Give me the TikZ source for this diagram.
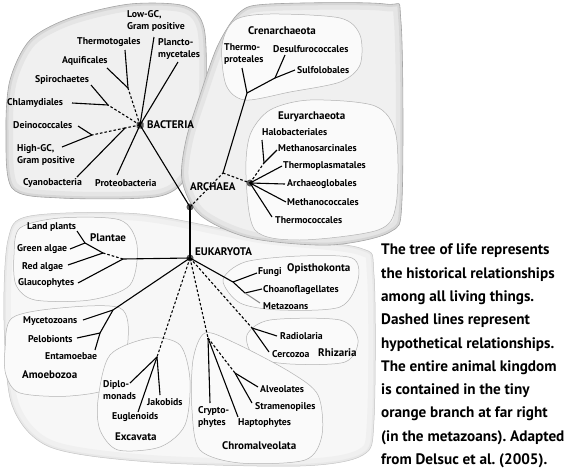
\documentclass[tikz,border=0pt]{standalone}
\usepackage{fontspec}
\setmainfont{PT Sans}
\frenchspacing
\begin{document}
\begin{tikzpicture}[x=1pt,y=-1pt,
 lab/.style={font=\bfseries\fontsize{9.8}{12}\selectfont, inner sep=0pt, anchor=west, align=left},
 grp/.style={font=\bfseries\fontsize{11}{13}\selectfont, inner sep=0pt, anchor=west},
 br/.style={line width=1.1pt, black},
 hyp/.style={br, dash pattern=on 2.6pt off 2pt},
 meta/.style={line width=1.1pt, black!45},
 dot/.style={circle, fill=black!65, inner sep=0pt, minimum size=7pt},
 sqdot/.style={rectangle, rounded corners=1.5pt, fill=black!65, inner sep=0pt, minimum size=7pt},
 outerblob/.style={fill=black!6},
 rim/.style={draw=black!35, line width=0.6pt},
 innerblob/.style={fill=black!2, draw=black!30, line width=0.5pt},
]
\useasboundingbox (0,0) rectangle (574,474);
\fill[white] (0,0) rectangle (574,474);

% ---- region outlines
\def\bacpath{plot[smooth cycle] coordinates{(6,130) (10,80) (30,40) (70,18) (130,4) (185,6) (204,28) (206,90) (200,145) (185,180) (155,197) (60,198) (12,188)}}
\def\arcpath{plot[smooth cycle] coordinates{(182,180) (186,140) (200,95) (218,45) (240,12) (270,4) (385,4) (401,22) (402,200) (390,232) (330,245) (250,238) (200,215)}}
\def\eukpath{plot[smooth cycle] coordinates{(4,320) (8,240) (30,216) (140,214) (260,236) (360,248) (374,275) (374,420) (363,455) (300,466) (150,462) (50,447) (12,405)}}

\fill[black!3] \eukpath;
\begin{scope}\clip \eukpath; \draw[black!6, line width=14pt] \eukpath; \draw[black!9, line width=4pt] \eukpath; \end{scope}
\draw[black!22, line width=0.5pt] \eukpath;

\fill[outerblob] \bacpath;
\begin{scope}\clip \bacpath; \draw[black!10, line width=14pt] \bacpath; \draw[black!16, line width=5pt] \bacpath; \end{scope}
\draw[rim] \bacpath;

\fill[outerblob] \arcpath;
\begin{scope}\clip \arcpath; \draw[black!10, line width=14pt] \arcpath; \draw[black!16, line width=5pt] \arcpath; \end{scope}
\draw[rim] \arcpath;

% sub-groups
\draw[innerblob] plot[smooth cycle] coordinates{(222,45) (235,20) (270,14) (340,18) (360,35) (360,65) (340,82) (290,92) (245,100) (226,85)};
\draw[innerblob] plot[smooth cycle] coordinates{(246,175) (250,135) (270,110) (310,100) (375,106) (396,135) (396,205) (378,230) (300,240) (255,230)};
\draw[innerblob] plot[smooth cycle] coordinates{(14,255) (20,228) (60,218) (120,220) (137,245) (130,285) (90,300) (35,300) (16,285)};
\draw[innerblob] plot[smooth cycle] coordinates{(5,350) (12,318) (60,308) (120,308) (128,340) (115,385) (70,396) (20,393) (6,375)};
\draw[innerblob] plot[smooth cycle] coordinates{(98,400) (110,355) (150,338) (180,345) (190,380) (185,425) (160,447) (118,450) (100,430)};
\draw[innerblob] plot[smooth cycle] coordinates{(223,280) (245,262) (300,256) (352,258) (358,280) (340,307) (280,310) (240,303)};
\draw[innerblob] plot[smooth cycle] coordinates{(247,335) (270,320) (340,320) (358,340) (345,362) (290,364) (255,357)};
\draw[innerblob] plot[smooth cycle] coordinates{(193,360) (205,333) (235,343) (290,372) (318,395) (322,435) (305,460) (240,463) (200,450) (192,410)};

% ---- junctions and branch ends
\coordinate (eLowGC) at (154,37);
\coordinate (ePlancto) at (178,62);
\coordinate (jThermo) at (128,88);
\coordinate (eThermo) at (125,50);
\coordinate (eAquif) at (107,68);
\coordinate (jChla) at (108,105);
\coordinate (eChla) at (72,103);
\coordinate (eSpiro) at (91,85);
\coordinate (jCyano) at (125,128);
\coordinate (jDein) at (92,135);
\coordinate (eDein) at (78,126);
\coordinate (eHigh) at (62,147);
\coordinate (eCyano) at (77,177);
\coordinate (eProteo) at (117,175);

\coordinate (jArch) at (223,173);
\coordinate (jCren) at (247,93);
\coordinate (jSD) at (275,78);
\coordinate (eThermoprot) at (242,68);
\coordinate (eDesulf) at (285,55);
\coordinate (eSulfo) at (295,70);
\coordinate (jHalo) at (264,163);
\coordinate (eHalo) at (262,140);
\coordinate (eMethsar) at (277,150);
\coordinate (eThermopl) at (282,166);
\coordinate (eArchaeo) at (285,184);
\coordinate (eMethcoc) at (286,202);
\coordinate (eThermoc) at (272,217);

\coordinate (jGlau) at (123,259);
\coordinate (jRed) at (103,253);
\coordinate (jLand) at (85,243);
\coordinate (eLand) at (77,231);
\coordinate (eGreen) at (70,249);
\coordinate (eRed) at (68,265);
\coordinate (eGlauc) at (78,283);
\coordinate (jAmoe) at (113,310);
\coordinate (eMyce) at (83,320);
\coordinate (jPelo) at (100,333);
\coordinate (ePelo) at (77,338);
\coordinate (eEntam) at (95,350);
\coordinate (jExc) at (157,357);
\coordinate (eDiplo) at (130,383);
\coordinate (eJako) at (160,395);
\coordinate (eEugl) at (138,412);
\coordinate (jChrom) at (208,338);
\coordinate (eCrypt) at (210,403);
\coordinate (eHapto) at (238,417);
\coordinate (jAlv) at (235,373);
\coordinate (eAlv) at (258,387);
\coordinate (eStram) at (252,403);
\coordinate (jRhiz) at (252,328);
\coordinate (eRadio) at (277,336);
\coordinate (eCerco) at (269,352);
\coordinate (jOpis) at (233,282);
\coordinate (eFungi) at (257,273);
\coordinate (jChoa) at (245,293);
\coordinate (eChoa) at (262,289);
\coordinate (eMeta) at (260,303);

% ---- main nodes
\node[sqdot] (bac) at (140,125) {};
\node[dot] (root) at (190,207) {};
\node[dot] (euk) at (190,258) {};
\node[dot] (eury) at (250,183) {};

% ---- bacteria branches
\draw[br] (bac.center) -- (eLowGC);
\draw[br] (bac.center) -- (ePlancto);
\draw[hyp] (bac.center) -- (jThermo);
\draw[br] (jThermo) -- (eThermo);
\draw[br] (jThermo) -- (eAquif);
\draw[hyp] (bac.center) -- (jChla);
\draw[br] (jChla) -- (eChla);
\draw[br] (jChla) -- (eSpiro);
\draw[hyp] (bac.center) -- (jCyano);
\draw[hyp] (jCyano) -- (jDein);
\draw[br] (jDein) -- (eDein);
\draw[br] (jDein) -- (eHigh);
\draw[br] (jCyano) -- (eCyano);
\draw[br] (bac.center) -- (eProteo);
\draw[br] (bac.center) -- (root.center);

% ---- archaea branches
\draw[hyp] (root.center) -- (jArch);
\draw[br] (jArch) -- (jCren);
\draw[br] (jCren) -- (eThermoprot);
\draw[br] (jCren) -- (jSD);
\draw[br] (jSD) -- (eDesulf);
\draw[br] (jSD) -- (eSulfo);
\draw[hyp] (jArch) -- (eury.center);
\draw[hyp] (eury.center) -- (jHalo);
\draw[br] (jHalo) -- (eHalo);
\draw[br] (jHalo) -- (eMethsar);
\draw[br] (eury.center) -- (eThermopl);
\draw[br] (eury.center) -- (eArchaeo);
\draw[br] (eury.center) -- (eMethcoc);
\draw[br] (eury.center) -- (eThermoc);

% ---- eukaryota branches
\draw[br] (root.center) -- (euk.center);
\draw[br] (euk.center) -- (jGlau);
\draw[br] (jGlau) -- (eGlauc);
\draw[hyp] (jGlau) -- (jRed);
\draw[br] (jRed) -- (eRed);
\draw[br] (jRed) -- (jLand);
\draw[br] (jLand) -- (eLand);
\draw[br] (jLand) -- (eGreen);
\draw[br] (euk.center) -- (jAmoe);
\draw[br] (jAmoe) -- (eMyce);
\draw[br] (jAmoe) -- (jPelo);
\draw[br] (jPelo) -- (ePelo);
\draw[br] (jPelo) -- (eEntam);
\draw[hyp] (euk.center) -- (jExc);
\draw[br] (jExc) -- (eDiplo);
\draw[br] (jExc) -- (eJako);
\draw[br] (jExc) -- (eEugl);
\draw[hyp] (euk.center) -- (jChrom);
\draw[br] (jChrom) -- (eCrypt);
\draw[br] (jChrom) -- (eHapto);
\draw[hyp] (jChrom) -- (jAlv);
\draw[br] (jAlv) -- (eAlv);
\draw[br] (jAlv) -- (eStram);
\draw[hyp] (euk.center) -- (jRhiz);
\draw[br] (jRhiz) -- (eRadio);
\draw[br] (jRhiz) -- (eCerco);
\draw[br] (euk.center) -- (jOpis);
\draw[br] (jOpis) -- (eFungi);
\draw[br] (jOpis) -- (jChoa);
\draw[br] (jChoa) -- (eChoa);
\draw[meta] (jChoa) -- (eMeta);

% ---- labels: bacteria
\node[lab] (lLowGC) at (127,20.5) {Low-GC,\\Gram positive};
\node[lab] (lPlancto) at (158,49.5) {Plancto-\\mycetales};
\node[lab] (lThermo) at (77,42) {Thermotogales};
\node[lab] (lAquif) at (62,61) {Aquificales};
\node[lab] (lSpiro) at (35,80) {Spirochaetes};
\node[lab] (lChla) at (7,103) {Chlamydiales};
\node[lab] (lDein) at (13,125) {Deinococcales};
\node[lab] (lHigh) at (17,154.5) {High-GC,\\Gram positive};
\node[lab] (lCyano) at (23,183) {Cyanobacteria};
\node[lab] (lProteo) at (95,183) {Proteobacteria};
\node[grp] (lBac) at (147,125) {BACTERIA};

% ---- labels: archaea
\node[grp] (lArch) at (190,187) {ARCHAEA};
\node[grp] (lCren) at (248,31) {Crenarchaeota};
\node[lab] (lThermoprot) at (224,54) {Thermo-\\proteales};
\node[lab] (lDesulf) at (273,49) {Desulfurococcales};
\node[lab] (lSulfo) at (297,70) {Sulfolobales};
\node[grp] (lEury) at (278,117) {Euryarchaeota};
\node[lab] (lHalo) at (262,132) {Halobacteriales};
\node[lab] (lMethsar) at (278,148) {Methanosarcinales};
\node[lab] (lThermopl) at (283,166) {Thermoplasmatales};
\node[lab] (lArchaeo) at (287,184) {Archaeoglobales};
\node[lab] (lMethcoc) at (287,202) {Methanococcales};
\node[lab] (lThermoc) at (275,220) {Thermococcales};

% ---- labels: eukaryota
\node[grp] (lEuk) at (195,252) {EUKARYOTA};
\node[lab] (lLand) at (27,227) {Land plants};
\node[grp] (lPlantae) at (90,238) {Plantae};
\node[lab] (lGreen) at (17,249) {Green algae};
\node[lab] (lRed) at (22,267) {Red algae};
\node[lab] (lGlauc) at (18,283) {Glaucophytes};
\node[lab] (lMyce) at (23,321) {Mycetozoans};
\node[lab] (lPelo) at (28,339) {Pelobionts};
\node[lab] (lEntam) at (45,356) {Entamoebae};
\node[grp] (lAmoe) at (22,375) {Amoebozoa};
\node[lab] (lDiplo) at (103,390) {Diplo-\\monads};
\node[lab] (lJako) at (147,402) {Jakobids};
\node[lab] (lEugl) at (112,417) {Euglenoids};
\node[grp] (lExc) at (115,437) {Excavata};
\node[lab] (lFungi) at (258,272) {Fungi};
\node[grp] (lOpis) at (287,269) {Opisthokonta};
\node[lab] (lChoa) at (263,290) {Choanoflagellates};
\node[lab] (lMeta) at (263,306) {Metazoans};
\node[lab] (lRadio) at (280,336) {Radiolaria};
\node[lab] (lCerco) at (272,354) {Cercozoa};
\node[grp] (lRhiz) at (318,353) {Rhizaria};
\node[lab] (lCrypt) at (198,417.5) {Crypto-\\phytes};
\node[lab] (lHapto) at (238,423) {Haptophytes};
\node[lab] (lAlv) at (260,389) {Alveolates};
\node[lab] (lStram) at (255,407) {Stramenopiles};
\node[grp] (lChrom) at (222,446) {Chromalveolata};

% ---- caption (base anchor = baseline of the last line)
\node[anchor=base west, align=left, inner sep=0pt, font=\bfseries\fontsize{15.2}{23.3}\selectfont] (caption) at (381,464.5)
 {The tree of life represents\\the historical relationships\\among all living things.\\Dashed lines represent\\hypothetical relationships.\\The entire animal kingdom\\is contained in the tiny\\orange branch at far right\\(in the metazoans). Adapted\\from Delsuc et al. (2005).};
\end{tikzpicture}
\end{document}
